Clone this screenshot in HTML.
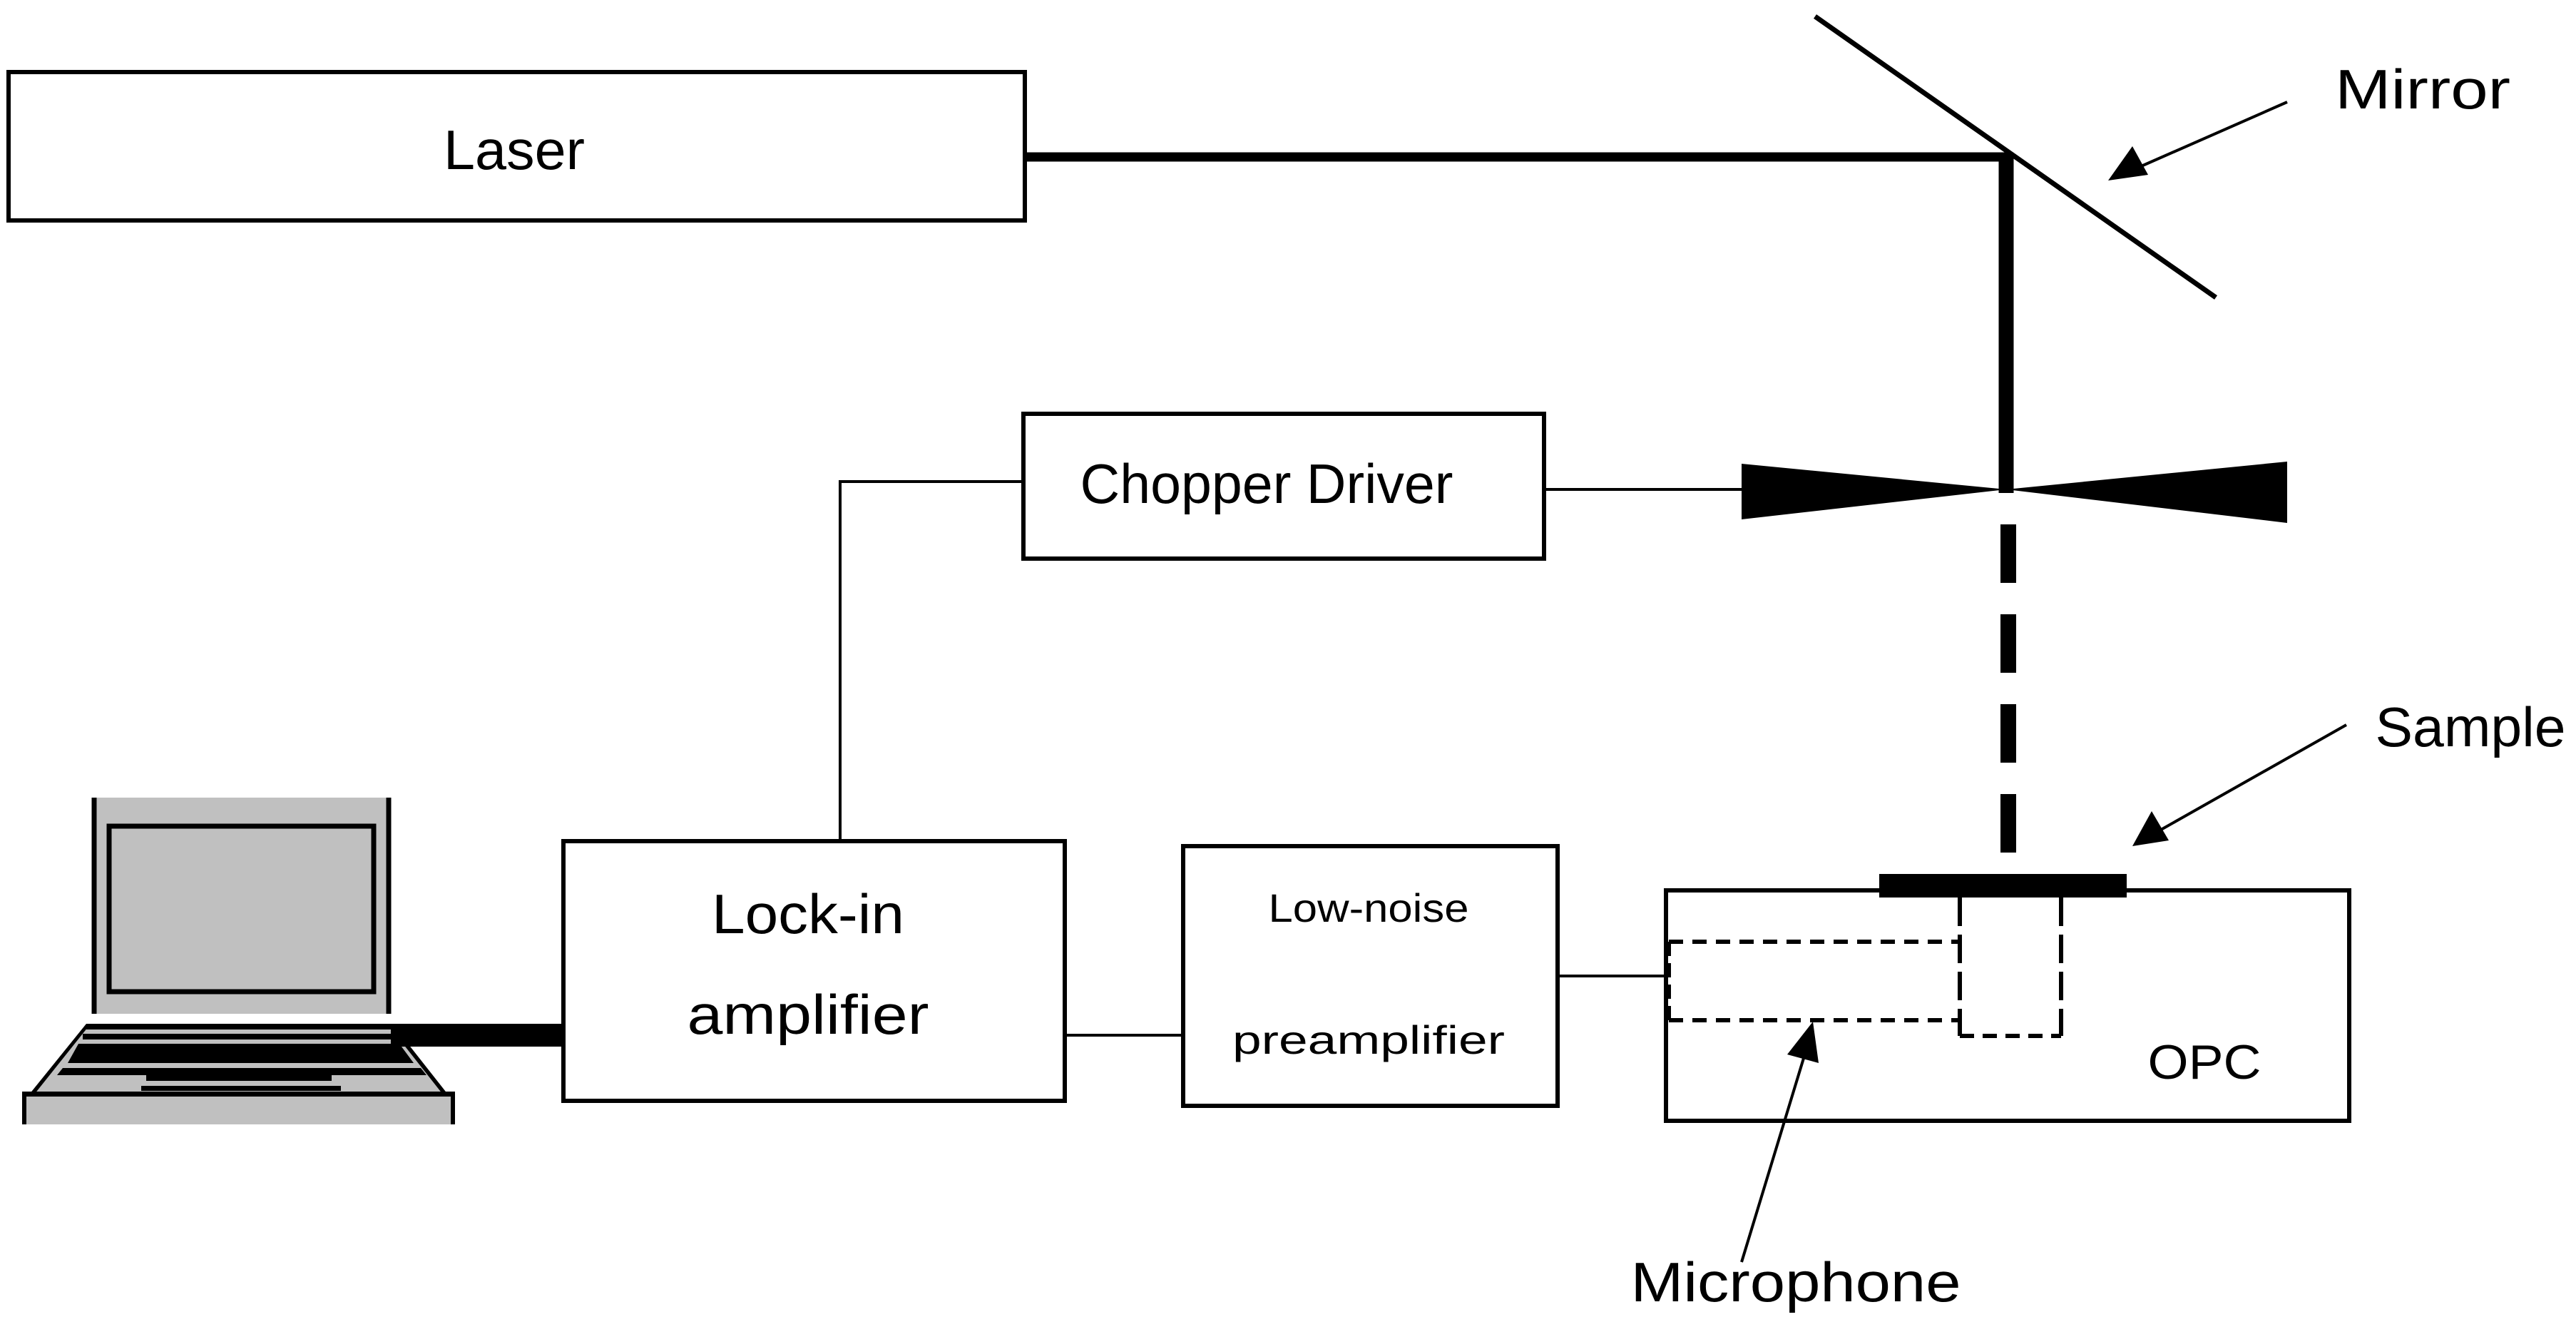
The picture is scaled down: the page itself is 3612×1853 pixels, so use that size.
<!DOCTYPE html>
<html><head><meta charset="utf-8"><style>html,body{margin:0;padding:0;background:#fff}svg{display:block}</style></head>
<body>
<svg width="3612" height="1853" viewBox="0 0 3612 1853" xmlns="http://www.w3.org/2000/svg" font-family="Liberation Sans, sans-serif" fill="none">
<rect width="3612" height="1853" fill="#fff"/>
<g stroke="#000" stroke-width="6">
<rect x="12" y="101" width="1425" height="208"/>
<rect x="1435" y="580" width="730" height="203"/>
<rect x="790" y="1179" width="703" height="364"/>
<rect x="1659" y="1186" width="525" height="364"/>
<rect x="2336" y="1248" width="958" height="323"/>
</g>
<!-- laser beam -->
<line x1="1437" y1="220" x2="2823" y2="220" stroke="#000" stroke-width="13"/>
<line x1="2813" y1="214" x2="2813" y2="691" stroke="#000" stroke-width="21"/>
<line x1="2816" y1="735" x2="2816" y2="1225" stroke="#000" stroke-width="22" stroke-dasharray="82 44"/>
<!-- mirror -->
<line x1="2545" y1="23" x2="3107" y2="417" stroke="#000" stroke-width="7"/>
<!-- chopper -->
<polygon points="2442,650 2813,686 2442,728" fill="#000"/>
<polygon points="3207,647 2813,686 3207,733" fill="#000"/>
<g stroke="#000" stroke-width="4">
<line x1="2165" y1="686" x2="2442" y2="686"/>
<polyline points="1435,675 1178,675 1178,1179"/>
<line x1="1493" y1="1451" x2="1659" y2="1451"/>
<line x1="2184" y1="1368" x2="2336" y2="1368"/>
</g>
<!-- sample -->
<rect x="2635" y="1225" width="347" height="33" fill="#000"/>
<!-- microphone dashed -->
<g stroke="#000" stroke-width="6">
<polyline points="2340,1320 2748,1320" stroke-dasharray="20 13"/>
<polyline points="2340,1430 2748,1430" stroke-dasharray="20 13"/>
<line x1="2340" y1="1320" x2="2340" y2="1430" stroke-dasharray="20 10"/>
<line x1="2748" y1="1258" x2="2748" y2="1452" stroke-dasharray="40 12"/>
<line x1="2890" y1="1258" x2="2890" y2="1452" stroke-dasharray="40 12"/>
<line x1="2748" y1="1452" x2="2890" y2="1452" stroke-dasharray="20 12"/>
</g>
<!-- arrows -->
<g stroke="#000" stroke-width="4">
<line x1="3207" y1="143" x2="3000" y2="234"/>
<line x1="3290" y1="1016" x2="3030" y2="1163"/>
<line x1="2442" y1="1769" x2="2530" y2="1480"/>
</g>
<polygon points="2956,253 2990,205 3012,245" fill="#000"/>
<polygon points="2990,1186 3017,1137 3041,1178" fill="#000"/>
<polygon points="2542,1432 2506,1478 2550,1490" fill="#000"/>
<!-- laptop -->
<rect x="129" y="1118" width="419" height="303" fill="#c0c0c0"/>
<line x1="132" y1="1118" x2="132" y2="1421" stroke="#000" stroke-width="7"/>
<line x1="545" y1="1118" x2="545" y2="1421" stroke="#000" stroke-width="7"/>
<rect x="153" y="1158" width="371" height="232" fill="#c0c0c0" stroke="#000" stroke-width="7"/>
<polygon points="121,1435 550,1435 628,1534 41,1534" fill="#c0c0c0"/>
<rect x="121" y="1435" width="669" height="8" fill="#000"/>
<rect x="116" y="1449" width="674" height="8" fill="#000"/>
<rect x="548" y="1435" width="242" height="32" fill="#000"/>
<polygon points="110,1463 560,1463 580,1490 95,1490" fill="#000"/>
<polygon points="88,1497 590,1497 598,1507 80,1507" fill="#000"/>
<rect x="205" y="1507" width="260" height="8" fill="#000"/>
<rect x="198" y="1522" width="280" height="7" fill="#000"/>
<polygon points="121,1435 41,1534 48,1534 127,1435" fill="#000"/>
<polygon points="550,1435 628,1534 621,1534 543,1435" fill="#000"/>
<rect x="31" y="1534" width="607" height="42" fill="#c0c0c0"/>
<rect x="31" y="1530" width="607" height="7" fill="#000"/>
<rect x="31" y="1530" width="6" height="46" fill="#000"/>
<rect x="632" y="1530" width="6" height="46" fill="#000"/>
<!-- text -->
<g fill="#000" font-size="78" text-anchor="middle">
<text x="721" y="237" textLength="198" lengthAdjust="spacingAndGlyphs">Laser</text>
<text x="1776" y="705" textLength="523" lengthAdjust="spacingAndGlyphs">Chopper Driver</text>
<text x="1133" y="1308" textLength="270" lengthAdjust="spacingAndGlyphs">Lock-in</text>
<text x="1133" y="1449" textLength="339" lengthAdjust="spacingAndGlyphs">amplifier</text>
<text x="1919" y="1292" font-size="56" textLength="281" lengthAdjust="spacingAndGlyphs">Low-noise</text>
<text x="1919" y="1477" font-size="56" textLength="382" lengthAdjust="spacingAndGlyphs">preamplifier</text>
<text x="3091" y="1512" font-size="68" textLength="159" lengthAdjust="spacingAndGlyphs">OPC</text>
<text x="3397" y="152" textLength="246" lengthAdjust="spacingAndGlyphs">Mirror</text>
<text x="3464" y="1046" textLength="267" lengthAdjust="spacingAndGlyphs">Sample</text>
<text x="2518" y="1824" textLength="463" lengthAdjust="spacingAndGlyphs">Microphone</text>
</g>
</svg>
</body></html>
